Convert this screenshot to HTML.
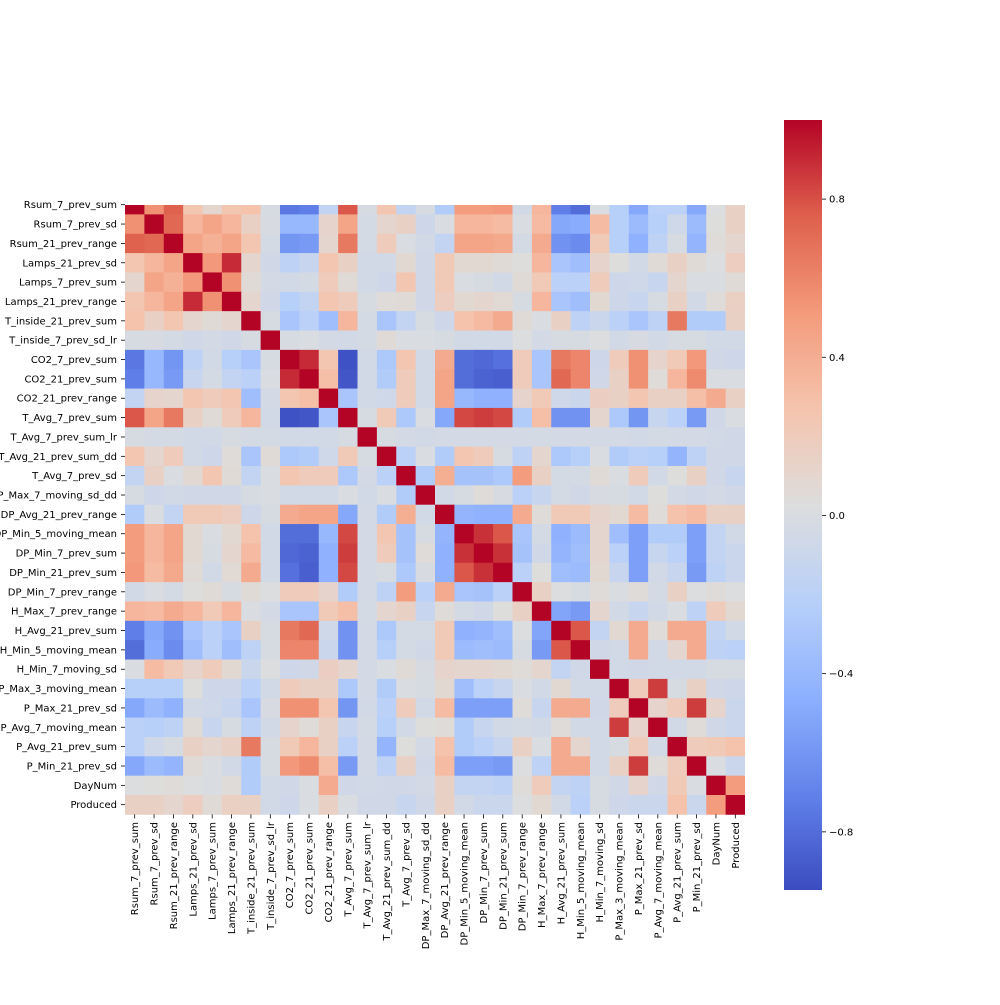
<!DOCTYPE html>
<html><head><meta charset="utf-8"><style>
body{margin:0;background:#fff}
svg text{font-family:"DejaVu Sans","Liberation Sans",sans-serif;font-size:10px;fill:#000}
</style></head><body>
<svg id="chart" width="1000" height="1000" viewBox="0 0 1000 1000" xmlns="http://www.w3.org/2000/svg">
<defs>
<clipPath id="hmclip"><rect x="125" y="205" width="620" height="610"/></clipPath>
<linearGradient id="cbgrad" x1="0" y1="1" x2="0" y2="0">
<stop offset="0" stop-color="rgb(59,76,192)"/><stop offset="0.125" stop-color="rgb(98,130,234)"/>
<stop offset="0.25" stop-color="rgb(141,176,254)"/><stop offset="0.375" stop-color="rgb(184,208,249)"/>
<stop offset="0.5" stop-color="rgb(221,221,221)"/><stop offset="0.625" stop-color="rgb(245,196,173)"/>
<stop offset="0.75" stop-color="rgb(244,154,123)"/><stop offset="0.875" stop-color="rgb(222,96,77)"/>
<stop offset="1" stop-color="rgb(180,4,38)"/></linearGradient>
</defs>
<g id="cells" clip-path="url(#hmclip)"></g>
<g id="ylabels"></g>
<g id="xlabels"></g>
<rect x="784" y="120" width="38" height="770" fill="url(#cbgrad)"/>
<g id="cbticks"></g>
</svg>
<script>
const labels = ["Rsum_7_prev_sum","Rsum_7_prev_sd","Rsum_21_prev_range","Lamps_21_prev_sd","Lamps_7_prev_sum","Lamps_21_prev_range","T_inside_21_prev_sum","T_inside_7_prev_sd_lr","CO2_7_prev_sum","CO2_21_prev_sum","CO2_21_prev_range","T_Avg_7_prev_sum","T_Avg_7_prev_sum_lr","T_Avg_21_prev_sum_dd","T_Avg_7_prev_sd","DP_Max_7_moving_sd_dd","DP_Avg_21_prev_range","DP_Min_5_moving_mean","DP_Min_7_prev_sum","DP_Min_21_prev_sum","DP_Min_7_prev_range","H_Max_7_prev_range","H_Avg_21_prev_sum","H_Min_5_moving_mean","H_Min_7_moving_sd","P_Max_3_moving_mean","P_Max_21_prev_sd","P_Avg_7_moving_mean","P_Avg_21_prev_sum","P_Min_21_prev_sd","DayNum","Produced"];
// upper triangle rows, each starting at the diagonal
const upperRows = [
[1,0.55,0.75,0.25,0.1,0.25,0.28,-0.02,-0.75,-0.72,-0.15,0.78,-0.02,0.25,-0.15,-0.02,-0.25,0.5,0.5,0.52,-0.05,0.35,-0.72,-0.8,0,-0.22,-0.5,-0.2,-0.2,-0.5,0.02,0.15],
[1,0.72,0.35,0.45,0.35,0.15,-0.01,-0.4,-0.4,0.12,0.45,-0.03,0.1,0.15,-0.08,0.0,0.35,0.35,0.32,0,0.33,-0.5,-0.48,0.32,-0.22,-0.38,-0.22,-0.07,-0.38,0.03,0.15],
[1,0.45,0.38,0.45,0.25,-0.03,-0.6,-0.58,0.1,0.65,-0.03,0.2,0.0,-0.05,-0.15,0.45,0.45,0.43,-0.03,0.42,-0.62,-0.65,0.22,-0.22,-0.45,-0.18,-0.02,-0.42,0.05,0.1],
[1,0.52,0.9,0.1,-0.06,-0.18,-0.12,0.25,0.15,-0.05,-0.05,0.08,-0.06,0.22,0.08,0.08,0.06,0.03,0.35,-0.3,-0.35,0.12,0.03,-0.05,0.06,0.15,0.06,0.02,0.18],
[1,0.55,0.06,-0.04,-0.05,-0.03,0.2,0.06,-0.05,-0.08,0.25,-0.06,0.22,0.0,-0.02,-0.05,0.06,0.22,-0.2,-0.2,0.2,-0.08,-0.07,-0.12,0.1,0.0,0.0,0.06],
[1,0.1,-0.06,-0.22,-0.15,0.25,0.2,-0.02,0.05,0.06,-0.06,0.18,0.08,0.1,0.07,-0.02,0.35,-0.3,-0.35,0.08,-0.08,-0.12,-0.02,0.15,-0.05,0.05,0.16],
[1,-0.02,-0.3,-0.2,-0.35,0.35,-0.03,-0.3,-0.15,-0.02,-0.08,0.28,0.33,0.42,0.06,0.0,0.15,-0.18,-0.1,-0.2,-0.3,-0.18,0.65,-0.25,-0.25,0.15],
[1,-0.02,0,-0.04,-0.05,-0.03,0.06,0.0,0.0,-0.02,-0.05,-0.05,-0.05,0.02,-0.04,-0.02,-0.02,0.02,-0.05,-0.01,-0.05,-0.02,-0.02,-0.05,-0.05],
[1,0.9,0.25,-0.92,-0.05,-0.28,0.25,-0.05,0.42,-0.8,-0.82,-0.78,0.2,-0.3,0.65,0.6,-0.08,0.2,0.55,0.12,0.22,0.52,-0.06,-0.08],
[1,0.3,-0.9,-0.05,-0.25,0.2,-0.05,0.45,-0.8,-0.85,-0.86,0.2,-0.3,0.72,0.6,-0.06,0.15,0.55,0.05,0.35,0.58,0.0,0.0],
[1,-0.3,-0.05,-0.07,0.2,-0.05,0.45,-0.4,-0.45,-0.45,0.12,0.22,-0.07,-0.1,0.17,0.15,0.25,0.15,0.15,0.3,0.42,0.15],
[1,-0.02,0.22,-0.28,0.0,-0.5,0.82,0.85,0.82,-0.25,0.3,-0.62,-0.62,0.1,-0.28,-0.6,-0.12,-0.2,-0.58,-0.06,0.0],
[1,-0.02,-0.04,-0.05,-0.04,-0.04,-0.04,-0.04,-0.04,-0.03,-0.04,-0.04,-0.04,-0.04,-0.05,-0.03,-0.04,-0.04,-0.05,-0.06],
[1,-0.2,0.0,-0.25,0.25,0.2,-0.02,-0.18,0.1,-0.28,-0.22,0.0,-0.25,-0.2,-0.22,-0.42,-0.18,-0.06,-0.06],
[1,-0.25,0.4,-0.32,-0.32,-0.28,0.5,0.15,-0.03,-0.03,0.06,0.0,0.2,-0.05,0.03,0.15,-0.06,-0.12],
[1,-0.05,-0.02,0.05,-0.01,-0.2,-0.12,-0.03,-0.06,-0.01,-0.02,-0.05,0.03,-0.04,-0.06,-0.04,-0.06],
[1,-0.42,-0.45,-0.45,0.42,0.05,0.22,0.22,0.12,0.08,0.32,0.05,0.28,0.32,0.15,0.15],
[1,0.88,0.78,-0.3,-0.03,-0.45,-0.38,0.1,-0.35,-0.55,-0.25,-0.25,-0.55,-0.15,-0.05],
[1,0.88,-0.32,-0.06,-0.42,-0.35,0.1,-0.2,-0.55,-0.12,-0.2,-0.55,-0.15,-0.1],
[1,-0.2,0.03,-0.35,-0.38,0.08,-0.12,-0.55,-0.05,-0.12,-0.58,-0.18,-0.1],
[1,0.15,0.02,-0.02,0.05,0.0,0.05,-0.03,0.15,0.02,0.05,0.02],
[1,-0.52,-0.58,0.1,-0.05,-0.12,-0.05,0.0,-0.18,0.2,0.08],
[1,0.78,-0.15,0.08,0.42,0.05,0.42,0.42,-0.15,-0.05],
[1,-0.06,-0.05,0.42,-0.05,0.1,0.42,-0.18,-0.2],
[1,-0.05,-0.06,-0.05,-0.05,-0.05,-0.02,-0.02],
[1,0.2,0.85,-0.02,0.15,-0.06,-0.08],
[1,0.12,0.2,0.85,0.12,-0.1],
[1,-0.05,0.05,-0.06,-0.1],
[1,0.2,0.22,0.28],
[1,0.0,-0.1],
[1,0.5],
[1]
];
const cbTickValues = [0.8,0.4,0,-0.4,-0.8];
const cbTickLabels = ["0.8","0.4","0.0","\u22120.4","\u22120.8"];

const vmin=-0.947, vmax=1;
const NS="http://www.w3.org/2000/svg";
const n=labels.length;
const x0=125, cellW=620/n, yc0=204.7, cellH=600/(n-1);
const cbTop=120, cbBot=890;
function xPos(j){return x0+j*cellW;}
function yPos(i){return yc0+(i-0.5)*cellH;}
function cbY(v){return cbBot-(v-vmin)/(vmax-vmin)*(cbBot-cbTop);}
const stops=[[0,[59,76,192]],[0.125,[98,130,234]],[0.25,[141,176,254]],[0.375,[184,208,249]],[0.5,[221,221,221]],[0.625,[245,196,173]],[0.75,[244,154,123]],[0.875,[222,96,77]],[1,[180,4,38]]];
function color(v){
  let t=Math.max(0,Math.min(1,(v-vmin)/(vmax-vmin)));
  for(let k=1;k<stops.length;k++){
    if(t<=stops[k][0]){
      const a=stops[k-1],b=stops[k],f=(t-a[0])/(b[0]-a[0]);
      const c=a[1].map((q,m)=>Math.round(q+(b[1][m]-q)*f));
      return `rgb(${c[0]},${c[1]},${c[2]})`;
    }
  }
  return "rgb(180,4,38)";
}
function val(i,j){ if(j<i){const t=i;i=j;j=t;} return upperRows[i][j-i]; }
const cells=document.getElementById('cells');
for(let i=0;i<n;i++){for(let j=0;j<n;j++){
  const r=document.createElementNS(NS,'rect');
  r.setAttribute('x',xPos(j).toFixed(2));
  r.setAttribute('y',yPos(i).toFixed(2));
  r.setAttribute('width',(cellW+0.4).toFixed(2));
  r.setAttribute('height',(cellH+0.4).toFixed(2));
  r.setAttribute('fill',color(val(i,j)));
  
  
  cells.appendChild(r);
}}
const yl=document.getElementById('ylabels');
const xl=document.getElementById('xlabels');
for(let i=0;i<n;i++){
  const yc=yc0+i*cellH;
  const tk=document.createElementNS(NS,'line');
  tk.setAttribute('x1',121);tk.setAttribute('x2',125);tk.setAttribute('y1',yc);tk.setAttribute('y2',yc);
  tk.setAttribute('stroke','#000');tk.setAttribute('stroke-width','0.8');
  
  
  yl.appendChild(tk);
  const t=document.createElementNS(NS,'text');
  t.setAttribute('x',117);t.setAttribute('y',yc+3.5);t.setAttribute('text-anchor','end');
  t.textContent=labels[i];
  
  
  yl.appendChild(t);
  const xc=x0+(i+0.5)*cellW;
  const tk2=document.createElementNS(NS,'line');
  tk2.setAttribute('x1',xc);tk2.setAttribute('x2',xc);tk2.setAttribute('y1',814.4);tk2.setAttribute('y2',818.4);
  tk2.setAttribute('stroke','#000');tk2.setAttribute('stroke-width','0.8');
  
  
  xl.appendChild(tk2);
  const t2=document.createElementNS(NS,'text');
  t2.setAttribute('transform',`translate(${xc+3.5},822) rotate(-90)`);
  t2.setAttribute('text-anchor','end');
  t2.textContent=labels[i];
  
  
  xl.appendChild(t2);
}
const cb=document.getElementById('cbticks');
cbTickValues.forEach((v,k)=>{
  const y=cbY(v);
  const tk=document.createElementNS(NS,'line');
  tk.setAttribute('x1',822);tk.setAttribute('x2',826);tk.setAttribute('y1',y);tk.setAttribute('y2',y);
  tk.setAttribute('stroke','#000');tk.setAttribute('stroke-width','0.8');
  
  
  cb.appendChild(tk);
  const t=document.createElementNS(NS,'text');
  t.setAttribute('x',829);t.setAttribute('y',y+3.5);
  t.textContent=cbTickLabels[k];
  
  
  cb.appendChild(t);
});
</script>
</body></html>
